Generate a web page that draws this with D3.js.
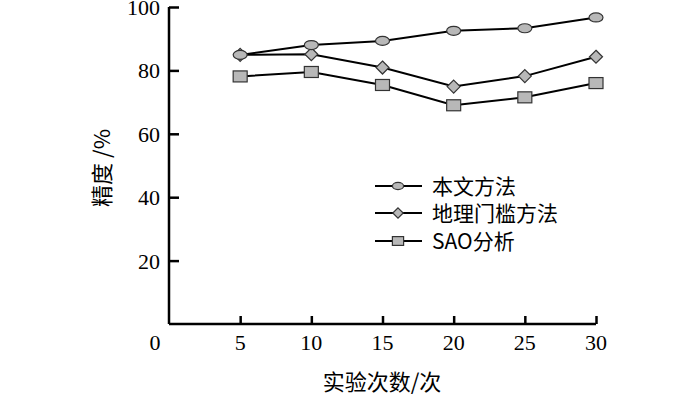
<!DOCTYPE html>
<html>
<head>
<meta charset="utf-8">
<script src="https://cdn.jsdelivr.net/npm/d3@7"></script>
<style>
body { margin: 0; background: #fff; }
svg { display: block; }
</style>
</head>
<body>
<div id="chart"></div>
<script>
var runs = [5, 10, 15, 20, 25, 30];
var ours = [84.9, 88.0, 89.3, 92.5, 93.3, 96.7];
var geo = [84.9, 85.1, 80.9, 74.9, 78.2, 84.3];
var sao = [78.1, 79.5, 75.4, 69.0, 71.5, 76.0];
var names = ["本文方法", "地理门槛方法", "SAO分析"];
var xTicks = [0, 5, 10, 15, 20, 25, 30];
var yTicks = [20, 40, 60, 80, 100];

var width = 700, height = 395;
var cjk = "'Noto Sans CJK SC', sans-serif";
var serif = "'Liberation Serif', 'DejaVu Serif', serif";

var svg = d3.select("#chart").append("svg").attr("width", width).attr("height", height);

var x = d3.scaleLinear().domain([0, 30]).range([169, 596]);
var y = d3.scaleLinear().domain([0, 100]).range([324, 7]);

var series = [
  {name: names[0], vals: ours, shape: "ellipse"},
  {name: names[1], vals: geo, shape: "diamond"},
  {name: names[2], vals: sao, shape: "square"}
];

// axes, ticks pointing inward
var xAxis = d3.axisBottom(x).tickValues(xTicks.slice(1)).tickSize(-8).tickFormat("");
var yAxis = d3.axisLeft(y).tickValues(yTicks).tickSize(-10).tickFormat("");

svg.append("g").attr("transform", "translate(0,324)").call(xAxis)
  .call(function(g) { g.select(".domain").attr("d", "M169,0H596"); });
svg.append("g").attr("transform", "translate(169,0)").call(yAxis)
  .call(function(g) { g.select(".domain").attr("d", "M0,7V324"); });
svg.selectAll(".domain, .tick line").attr("stroke", "#000").attr("stroke-width", 2.5);

svg.selectAll("text.xl").data(xTicks).enter().append("text")
  .attr("class", "xl")
  .attr("x", function(d) { return d === 0 ? 155 : x(d); })
  .attr("y", 350)
  .attr("text-anchor", "middle")
  .style("font-family", serif).style("font-size", "22px")
  .text(function(d) { return d; });

svg.selectAll("text.yl").data(yTicks).enter().append("text")
  .attr("class", "yl")
  .attr("x", 160)
  .attr("y", function(d) { return y(d) + 8; })
  .attr("text-anchor", "end")
  .style("font-family", serif).style("font-size", "22px")
  .text(function(d) { return d; });

svg.append("text").attr("x", 382).attr("y", 390).attr("text-anchor", "middle")
  .style("font-family", cjk).style("font-size", "22px").text("实验次数/次");
svg.append("text").attr("transform", "translate(110,168) rotate(-90)").attr("text-anchor", "middle")
  .style("font-family", cjk).style("font-size", "22px").text("精度 /%");

function marker(g, shape, k) {
  var m;
  if (shape === "ellipse") {
    m = g.append("ellipse").attr("rx", 7 * k).attr("ry", 4.5 * k);
  } else if (shape === "diamond") {
    var r = 6.5 * k;
    m = g.append("path").attr("d", "M0," + (-r) + "L" + r + ",0L0," + r + "L" + (-r) + ",0Z");
  } else {
    m = g.append("rect").attr("x", -7 * k).attr("y", -5.5 * k).attr("width", 14 * k).attr("height", 11 * k);
  }
  m.attr("fill", "#b8b8b8").attr("stroke", "#333").attr("stroke-width", 1.2);
}

var line = d3.line().x(function(d, i) { return x(runs[i]); }).y(function(d) { return y(d); });

// draw in reverse so 本文方法 sits on top
series.slice().reverse().forEach(function(s) {
  svg.append("path").attr("d", line(s.vals)).attr("fill", "none")
    .attr("stroke", "#000").attr("stroke-width", 2);
  s.vals.forEach(function(v, i) {
    var g = svg.append("g").attr("transform", "translate(" + x(runs[i]) + "," + y(v) + ")");
    marker(g, s.shape, 1);
  });
});

// legend
var legY = [186, 213, 241];
series.forEach(function(s, i) {
  var g = svg.append("g").attr("transform", "translate(0," + legY[i] + ")");
  g.append("line").attr("x1", 375).attr("x2", 422).attr("stroke", "#000").attr("stroke-width", 2);
  var mg = g.append("g").attr("transform", "translate(398,0)");
  marker(mg, s.shape, 0.8);
  g.append("text").attr("x", 432).attr("y", 8)
    .style("font-family", cjk).style("font-size", "21px").text(s.name);
});
</script>
</body>
</html>
